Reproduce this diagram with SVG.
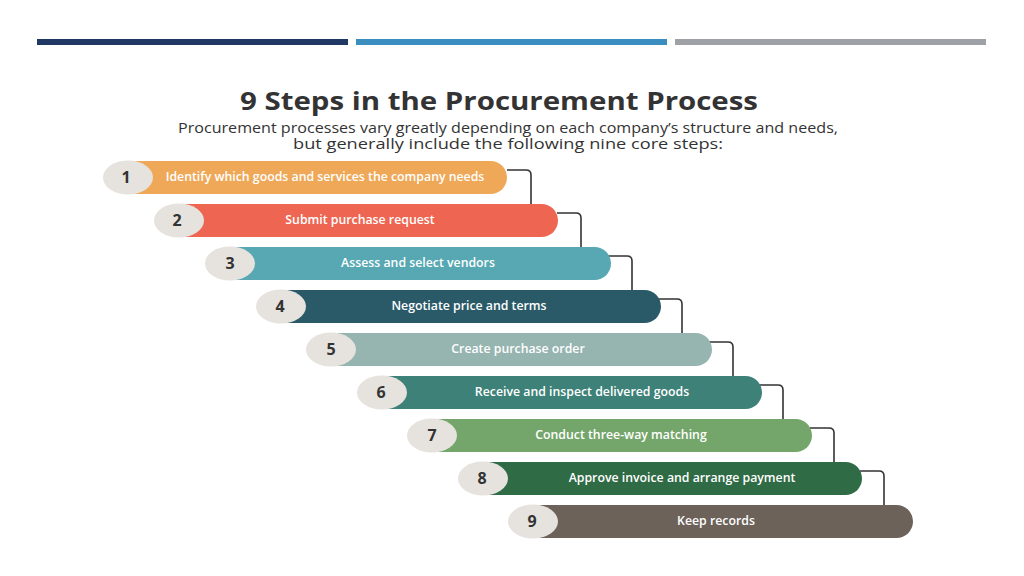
<svg xmlns="http://www.w3.org/2000/svg" width="1024" height="576" viewBox="0 0 1024 576">
<style>
.lbl{font-family:"Open Sans","Liberation Sans",sans-serif;font-size:12.3px;font-weight:600;fill:#fff;text-anchor:middle}
.num{font-family:"Open Sans","Liberation Sans",sans-serif;font-size:16px;font-weight:700;fill:#333;text-anchor:middle}
.conn{fill:none;stroke:#333;stroke-width:1.6}
</style>
<rect width="1024" height="576" fill="#fff"/>
<rect x="37" y="39" width="311" height="6" fill="#1F3864"/>
<rect x="356" y="39" width="311" height="6" fill="#3A8DBF"/>
<rect x="675" y="39" width="311" height="6" fill="#9EA2A6"/>
<text x="499" y="110" text-anchor="middle" font-family="'Open Sans','Liberation Sans',sans-serif" font-size="25" font-weight="700" fill="#333" textLength="518" lengthAdjust="spacingAndGlyphs">9 Steps in the Procurement Process</text>
<text text-anchor="middle" font-family="'Open Sans','Liberation Sans',sans-serif" font-size="14" fill="#333"><tspan x="508" y="133" textLength="660" lengthAdjust="spacingAndGlyphs">Procurement processes vary greatly depending on each company’s structure and needs,</tspan><tspan x="508" y="149" textLength="430" lengthAdjust="spacingAndGlyphs">but generally include the following nine core steps:</tspan></text>
<g id="connectors">
<path class="conn" d="M507 170 H526 Q531 170 531 175 V205"/>
<path class="conn" d="M557 213 H576 Q581 213 581 218 V248"/>
<path class="conn" d="M608 256 H627 Q632 256 632 261 V291"/>
<path class="conn" d="M658 299 H677 Q682 299 682 304 V334"/>
<path class="conn" d="M709 342 H728 Q733 342 733 347 V377"/>
<path class="conn" d="M759 385 H778 Q783 385 783 390 V420"/>
<path class="conn" d="M810 428 H829 Q834 428 834 433 V463"/>
<path class="conn" d="M860 471 H879 Q884 471 884 476 V506"/>
</g>
<g id="step1"><rect x="120" y="161" width="387" height="33" rx="16.5" fill="#EFA857"/><ellipse cx="128" cy="177.5" rx="25" ry="17" fill="#E6E2DE"/><text class="num" x="126" y="183">1</text><text class="lbl" x="325" y="181">Identify which goods and services the company needs</text></g>
<g id="step2"><rect x="170" y="204" width="388" height="33" rx="16.5" fill="#EE6652"/><ellipse cx="179" cy="220.5" rx="25" ry="17" fill="#E6E2DE"/><text class="num" x="177" y="226">2</text><text class="lbl" x="360" y="224">Submit purchase request</text></g>
<g id="step3"><rect x="221" y="247" width="390" height="33" rx="16.5" fill="#57A8B2"/><ellipse cx="230" cy="263.5" rx="25" ry="17" fill="#E6E2DE"/><text class="num" x="230" y="269">3</text><text class="lbl" x="418" y="267">Assess and select vendors</text></g>
<g id="step4"><rect x="271" y="290" width="390" height="33" rx="16.5" fill="#2A5A68"/><ellipse cx="281" cy="306.5" rx="25" ry="17" fill="#E6E2DE"/><text class="num" x="280" y="312">4</text><text class="lbl" x="469" y="310">Negotiate price and terms</text></g>
<g id="step5"><rect x="322" y="333" width="390" height="33" rx="16.5" fill="#96B4B0"/><ellipse cx="331" cy="349.5" rx="25" ry="17" fill="#E6E2DE"/><text class="num" x="331" y="355">5</text><text class="lbl" x="518" y="353">Create purchase order</text></g>
<g id="step6"><rect x="372" y="376" width="390" height="33" rx="16.5" fill="#3E8178"/><ellipse cx="382" cy="392.5" rx="25" ry="17" fill="#E6E2DE"/><text class="num" x="381" y="398">6</text><text class="lbl" x="582" y="396">Receive and inspect delivered goods</text></g>
<g id="step7"><rect x="423" y="419" width="389" height="33" rx="16.5" fill="#74A56A"/><ellipse cx="432" cy="435.5" rx="25" ry="17" fill="#E6E2DE"/><text class="num" x="432" y="441">7</text><text class="lbl" x="621" y="439">Conduct three-way matching</text></g>
<g id="step8"><rect x="473" y="462" width="389" height="33" rx="16.5" fill="#2F6B45"/><ellipse cx="483" cy="478.5" rx="25" ry="17" fill="#E6E2DE"/><text class="num" x="482" y="484">8</text><text class="lbl" x="682" y="482">Approve invoice and arrange payment</text></g>
<g id="step9"><rect x="524" y="505" width="389" height="33" rx="16.5" fill="#6C625A"/><ellipse cx="533" cy="521.5" rx="25" ry="17" fill="#E6E2DE"/><text class="num" x="532" y="527">9</text><text class="lbl" x="716" y="525">Keep records</text></g>
</svg>
